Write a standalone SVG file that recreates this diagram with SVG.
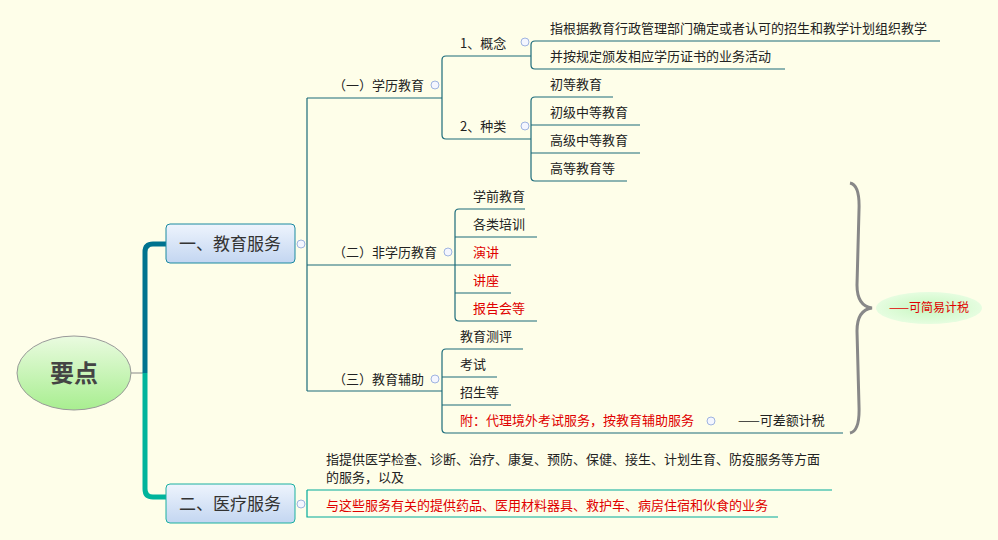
<svg xmlns="http://www.w3.org/2000/svg" width="998" height="540" viewBox="0 0 998 540">
<style>
text{font-family:"Noto Sans CJK SC","Liberation Sans",sans-serif;font-size:13px;fill:#222}
.r{fill:#e00000}
.l{fill:none;stroke:#1b6b7a;stroke-width:1.2}
.c{fill:#f4f6ff;stroke:#9fb4e0;stroke-width:1}
.m{font-size:17px;fill:#333}
</style>
<defs>
<linearGradient id="gr" x1="0" y1="0" x2="0" y2="1"><stop offset="0" stop-color="#eafbe0"/><stop offset="1" stop-color="#a8ee90"/></linearGradient>
<linearGradient id="gb" x1="0" y1="0" x2="0" y2="1"><stop offset="0" stop-color="#eef4fd"/><stop offset="1" stop-color="#c3d6f1"/></linearGradient>
<radialGradient id="ge"><stop offset="0" stop-color="#c6f7c0"/><stop offset="1" stop-color="#e6fde0"/></radialGradient>
</defs>
<rect width="998" height="540" fill="#fefee9"/>
<g id="connectors">
<path d="M131 373 H143" stroke="#888" stroke-width="1" fill="none"/>
<path d="M145 373 V252 Q145 244 153 244 H166" stroke="#00738f" stroke-width="5" fill="none"/>
<path d="M145 373 V489 Q145 497 153 497 H166" stroke="#00b49c" stroke-width="5" fill="none"/>
<path class="l" d="M307 98 V391 M307 98 H442 M307 265 H455 M307 391 H442"/>
<path class="l" d="M442 60 V135 M442 60 Q442 56 446 56 H531 M442 135 Q442 139 446 139 H531"/>
<path class="l" d="M531 45 V65 M531 45 Q531 41 535 41 H940 M531 65 Q531 69 535 69 H785"/>
<path class="l" d="M531 101 V177 M531 101 Q531 97 535 97 H613 M531 125 H640 M531 153 H640 M531 177 Q531 181 535 181 H627"/>
<path class="l" d="M455 213 V317 M455 213 Q455 209 459 209 H525 M455 237 H537 M455 265 H511 M455 293 H511 M455 317 Q455 321 459 321 H537"/>
<path class="l" d="M442 353 V429 M442 353 Q442 349 446 349 H523 M442 377 H497 M442 405 H511 M442 429 Q442 433 446 433 H843"/>
<path d="M307 490 H832 M307 490 V517 H778" stroke="#00a99a" stroke-width="1.2" fill="none"/>
<path d="M850 183 Q860 185 859 210 L857 285 Q857 306 872 308 Q857 310 857 331 L859 406 Q860 431 850 433" stroke="#888" stroke-width="3" fill="none"/>
</g>
<g id="root"><ellipse cx="74" cy="373" rx="57" ry="37" fill="url(#gr)" stroke="#999"/><text x="74" y="382" text-anchor="middle" style="font-size:24px;font-weight:bold;fill:#444">要点</text></g>
<g id="n1"><rect x="166" y="224" width="129" height="39" rx="4" fill="url(#gb)" stroke="#1b8aa0"/><text class="m" x="230" y="250" text-anchor="middle">一、教育服务</text><circle class="c" cx="301" cy="244" r="4"/></g>
<g id="n2"><rect x="166" y="484" width="129" height="39" rx="4" fill="url(#gb)" stroke="#1bb0a0"/><text class="m" x="230" y="510" text-anchor="middle">二、医疗服务</text><circle class="c" cx="301" cy="504" r="4"/></g>
<g id="a1"><text x="333" y="90">（一）学历教育</text><circle class="c" cx="435" cy="85" r="4"/></g>
<g id="a2"><text x="333" y="257">（二）非学历教育</text><circle class="c" cx="448" cy="252" r="4"/></g>
<g id="a3"><text x="333" y="384">（三）教育辅助</text><circle class="c" cx="435" cy="379" r="4"/></g>
<g id="b1"><text x="460" y="48">1、概念</text><circle class="c" cx="525" cy="42" r="4"/></g>
<g id="b2"><text x="460" y="131">2、种类</text><circle class="c" cx="525" cy="126" r="4"/></g>
<g id="leaves">
<text x="550" y="33">指根据教育行政管理部门确定或者认可的招生和教学计划组织教学</text>
<text x="550" y="61">并按规定颁发相应学历证书的业务活动</text>
<text x="550" y="89">初等教育</text>
<text x="550" y="117">初级中等教育</text>
<text x="550" y="145">高级中等教育</text>
<text x="550" y="173">高等教育等</text>
<text x="473" y="201">学前教育</text>
<text x="473" y="229">各类培训</text>
<text x="473" y="257" class="r">演讲</text>
<text x="473" y="285" class="r">讲座</text>
<text x="473" y="313" class="r">报告会等</text>
<text x="460" y="341">教育测评</text>
<text x="460" y="369">考试</text>
<text x="460" y="397">招生等</text>
<text x="460" y="425" class="r">附：代理境外考试服务，按教育辅助服务</text>
<circle class="c" cx="711" cy="421" r="4"/>
<text x="738" y="425">——可差额计税</text>
<text x="326" y="464">指提供医学检查、诊断、治疗、康复、预防、保健、接生、计划生育、防疫服务等方面</text>
<text x="326" y="482">的服务，以及</text>
<text x="326" y="510" class="r">与这些服务有关的提供药品、医用材料器具、救护车、病房住宿和伙食的业务</text>
</g>
<g id="tax"><ellipse cx="929" cy="308" rx="53" ry="16" fill="url(#ge)"/><text x="929" y="312" text-anchor="middle" class="r" style="font-size:12px">——可简易计税</text></g>
</svg>
